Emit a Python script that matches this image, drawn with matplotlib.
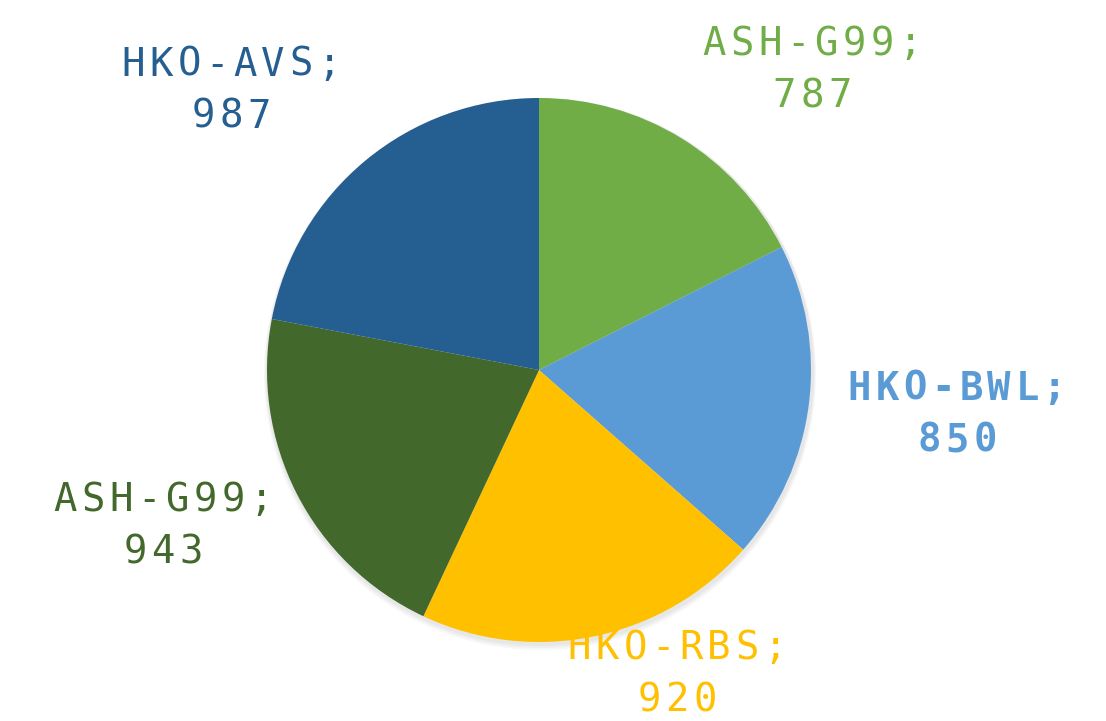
import numpy as np
import matplotlib
matplotlib.use('Agg')
import matplotlib.pyplot as plt

# slices, clockwise from 12 o'clock
names = ['ASH-G99', 'HKO-BWL', 'HKO-RBS', 'ASH-G99', 'HKO-AVS']
values = [787, 850, 920, 943, 987]
colors = ['#70AD47', '#5B9BD5', '#FFC000', '#43682B', '#255E91']

fig = plt.figure(figsize=(11.06, 7.21), dpi=100)
ax = fig.add_axes([0, 0, 1, 1])

cx, cy, r = 539, 721 - 370, 272

# soft shadow behind the pie
for i in range(3):
    ax.add_patch(plt.Circle((cx + 1, cy - 2 - i), r + 2 + i, color='black', alpha=0.03, lw=0))

ax.pie(values, colors=colors, startangle=90, counterclock=False,
       center=(cx, cy), radius=r, wedgeprops={'linewidth': 0},
       frame=True)
ax.set_xlim(0, 1106)
ax.set_ylim(0, 721)
ax.set_aspect('equal')
ax.axis('off')


# spaced out monospace text, one char at a time
def spaced(x, y, s, color, bold=False, adv=28):
    n = len(s)
    for i, ch in enumerate(s):
        ax.text(x + (i - (n - 1) / 2) * adv, y, ch, ha='center', va='center',
                color=color, fontsize=28, family='DejaVu Sans Mono',
                fontweight='bold' if bold else 'normal')


# label positions (pixel coords, top-left origin)
label_pos = [(812, 70), (957, 415), (677, 674), (163, 526), (231, 91)]
bold = [False, True, False, False, False]
for n, v, c, (x, y), b in zip(names, values, colors, label_pos, bold):
    spaced(x, 721 - (y - 26), n + ';', c, b)
    spaced(x, 721 - (y + 26), str(v), c, b)

fig.savefig('out.png', dpi=100)
